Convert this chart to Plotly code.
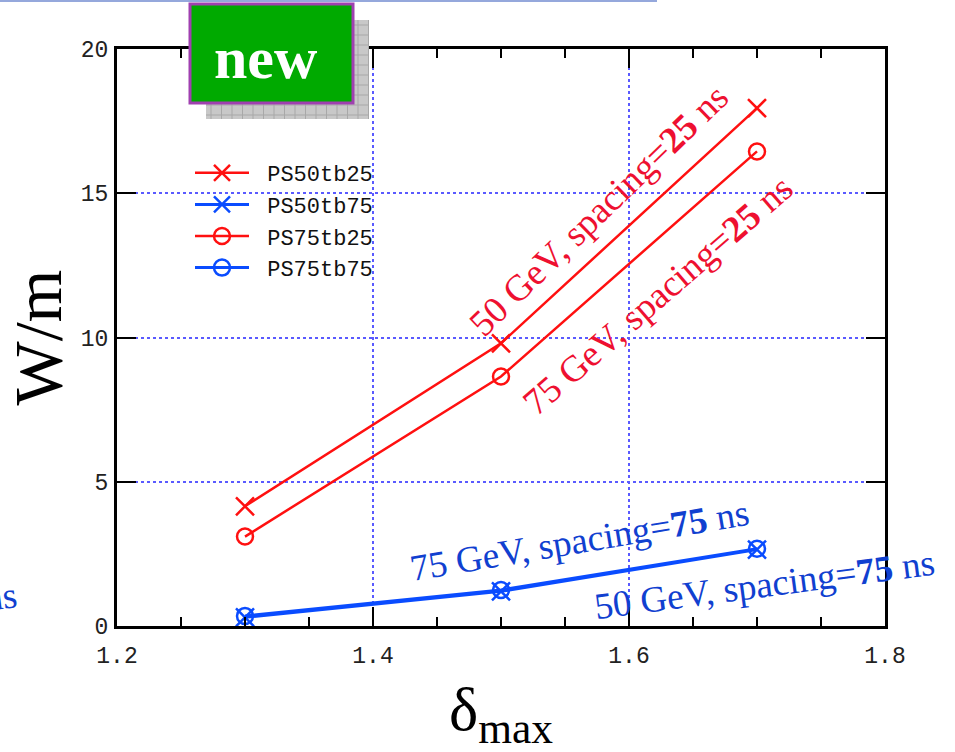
import plotly.graph_objects as go

# ---- data ----
delta_max = [1.3, 1.5, 1.7]
ps50tb25 = [4.15, 9.8, 17.95]
ps50tb75 = [0.30, 1.20, 2.65]
ps75tb25 = [3.1, 8.65, 16.45]
ps75tb75 = [0.35, 1.25, 2.68]
series_names = ["PS50tb25", "PS50tb75", "PS75tb25", "PS75tb75"]
x_ticks = [1.2, 1.4, 1.6, 1.8]
x_ticklabels = ["1.2", "1.4", "1.6", "1.8"]
y_ticks = [0, 5, 10, 15, 20]
y_ticklabels = ["0", "5", "10", "15", "20"]

W, H = 955, 752
L, R, T, B = 117, 70, 49, 126
PW, PH = W - L - R, H - T - B

def px2x(px):
    return (px - L) / PW

def py2y(py):
    return (H - B - py) / PH

RED = "#ff1010"
BLUE = "#0a4cff"
RED_TXT = "#ee1030"
BLUE_TXT = "#1040d0"
NB = "\u00a0"

fig = go.Figure()

fig.add_trace(go.Scatter(x=delta_max, y=ps50tb25, name=NB + series_names[0], mode="lines+markers",
                         line=dict(color=RED, width=2.5),
                         marker=dict(symbol="x-thin", size=18, line=dict(color=RED, width=2.5))))
fig.add_trace(go.Scatter(x=delta_max, y=ps50tb75, name=NB + series_names[1], mode="lines+markers",
                         line=dict(color=BLUE, width=3),
                         marker=dict(symbol="x-thin", size=18, line=dict(color=BLUE, width=2.5))))
fig.add_trace(go.Scatter(x=delta_max, y=ps75tb25, name=NB + series_names[2], mode="lines+markers",
                         line=dict(color=RED, width=2.5),
                         marker=dict(symbol="circle-open", size=16, color=RED, line=dict(color=RED, width=2.5))))
fig.add_trace(go.Scatter(x=delta_max, y=ps75tb75, name=NB + series_names[3], mode="lines+markers",
                         line=dict(color=BLUE, width=3),
                         marker=dict(symbol="circle-open", size=16, color=BLUE, line=dict(color=BLUE, width=2.5))))

tickfont = dict(family="Liberation Mono", size=23, color="#222")

fig.update_xaxes(
    range=[1.2, 1.8], tickmode="array", tickvals=x_ticks, ticktext=x_ticklabels,
    ticks="inside", ticklen=19, tickwidth=2, tickcolor="black",
    minor=dict(dtick=0.05, tick0=1.2, ticks="inside", ticklen=9, tickwidth=2, tickcolor="black", showgrid=False),
    showline=True, linewidth=3, linecolor="black", mirror="ticks",
    showgrid=True, gridcolor="#5a5aff", griddash="dot", gridwidth=2,
    zeroline=False, tickfont=tickfont, ticklabelstandoff=6,
    title=dict(text="δ<sub>max</sub>", font=dict(family="Liberation Serif", size=62, color="black"), standoff=24),
)
fig.update_yaxes(
    range=[0, 20], tickmode="array", tickvals=y_ticks, ticktext=y_ticklabels,
    ticks="inside", ticklen=19, tickwidth=2, tickcolor="black",
    showline=True, linewidth=3, linecolor="black", mirror="ticks",
    showgrid=True, gridcolor="#5a5aff", griddash="dot", gridwidth=2,
    zeroline=False, tickfont=tickfont, ticklabelstandoff=1,
    title=dict(text="W/m", font=dict(family="Liberation Serif", size=68, color="black"), standoff=6),
)

shapes = []
# slide rule at top
shapes.append(dict(type="line", xref="paper", yref="paper", x0=px2x(0), x1=px2x(657),
                   y0=py2y(1), y1=py2y(1), line=dict(color="#95a8dc", width=2), layer="above"))
# shadow of "new" box
sx0, sx1, sy0, sy1 = 206, 369, 20, 119
shapes.append(dict(type="rect", xref="paper", yref="paper", x0=px2x(sx0), x1=px2x(sx1),
                   y0=py2y(sy1), y1=py2y(sy0), fillcolor="#c8c8c8", line=dict(width=0), layer="above"))
path = ""
gx = sx0 + 5
while gx < sx1:
    path += f"M{px2x(gx)},{py2y(sy0)}L{px2x(gx)},{py2y(sy1)}"
    gx += 10.5
gy = sy0 + 5
while gy < sy1:
    path += f"M{px2x(sx0)},{py2y(gy)}L{px2x(sx1)},{py2y(gy)}"
    gy += 10
shapes.append(dict(type="path", xref="paper", yref="paper", path=path,
                   line=dict(color="#a8a8a8", width=1), layer="above"))
# green box
shapes.append(dict(type="rect", xref="paper", yref="paper", x0=px2x(190), x1=px2x(353),
                   y0=py2y(103), y1=py2y(4), fillcolor="#00aa00",
                   line=dict(color="#a040b0", width=3), layer="above"))

annotations = [
    dict(text="<b>new</b>", x=px2x(266), y=py2y(58), xref="paper", yref="paper", showarrow=False,
         font=dict(family="Liberation Serif", size=60, color="white"), xanchor="center", yanchor="middle"),
    dict(text="50 GeV, spacing=<b>25</b> ns", x=px2x(598), y=py2y(210), xref="paper", yref="paper",
         showarrow=False, textangle=-44, font=dict(family="Liberation Serif", size=37, color=RED_TXT),
         xanchor="center", yanchor="middle"),
    dict(text="75 GeV, spacing=<b>25</b> ns", x=px2x(657), y=py2y(295), xref="paper", yref="paper",
         showarrow=False, textangle=-41, font=dict(family="Liberation Serif", size=37, color=RED_TXT),
         xanchor="center", yanchor="middle"),
    dict(text="75 GeV, spacing=<b>75</b> ns", x=px2x(579), y=py2y(540), xref="paper", yref="paper",
         showarrow=False, textangle=-9.5, font=dict(family="Liberation Serif", size=37, color=BLUE_TXT),
         xanchor="center", yanchor="middle"),
    dict(text="50 GeV, spacing=<b>75</b> ns", x=px2x(764), y=py2y(584), xref="paper", yref="paper",
         showarrow=False, textangle=-7.5, font=dict(family="Liberation Serif", size=37, color=BLUE_TXT),
         xanchor="center", yanchor="middle"),
    dict(text="ns", x=px2x(22), y=py2y(596), xref="paper", yref="paper",
         showarrow=False, textangle=-7, font=dict(family="Liberation Serif", size=37, color=BLUE_TXT),
         xanchor="right", yanchor="middle"),
]

fig.update_layout(
    width=W, height=H, margin=dict(l=L, r=R, t=T, b=B, autoexpand=False),
    paper_bgcolor="white", plot_bgcolor="white",
    font=dict(family="Liberation Serif"),
    shapes=shapes, annotations=annotations,
    showlegend=True,
    legend=dict(x=px2x(190), y=py2y(152), xanchor="left", yanchor="top",
                font=dict(family="Liberation Mono", size=22, color="#111"),
                bgcolor="rgba(0,0,0,0)", itemwidth=54, tracegroupgap=0),
)

fig.write_html("out.html", config={"displayModeBar": False},
               post_script="document.body.style.margin='0';document.body.style.overflow='hidden';")
